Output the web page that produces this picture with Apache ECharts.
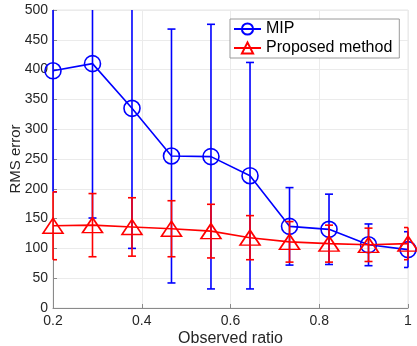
<!DOCTYPE html>
<html>
<head>
<meta charset="utf-8">
<script src="https://cdn.jsdelivr.net/npm/echarts@6/dist/echarts.min.js"></script>
<style>html,body{margin:0;padding:0;background:#fff}#c{width:417px;height:346px}</style>
</head>
<body>
<div id="c"></div>
<script>
var ratios = [0.2, 0.289, 0.378, 0.467, 0.556, 0.644, 0.733, 0.822, 0.911, 1.0];
var mipMean = [398, 410, 335, 255, 254, 222, 137, 132, 106, 98];
var mipErr = [203, 259, 235, 213, 222, 190, 65, 59, 35, 30];
var propMean = [138, 139, 136, 133, 129, 118, 111, 108, 106, 108];
var propErr = [57, 53, 49, 47, 45, 37, 34, 31, 28, 27];
var seriesNames = ['MIP', 'Proposed method'];

var FONT = 'Liberation Sans, Arial, Helvetica, sans-serif';

function pairs(m) { return ratios.map(function (x, i) { return [x, m[i]]; }); }
function bars(m, e) { return ratios.map(function (x, i) { return [x, m[i] - e[i], m[i] + e[i]]; }); }

function errRender(color) {
  return function (params, api) {
    var cs = params.coordSys;
    var top = cs.y, bot = cs.y + cs.height, left = cs.x, right = cs.x + cs.width;
    var lo = api.coord([api.value(0), api.value(1)]);
    var hi = api.coord([api.value(0), api.value(2)]);
    var x = lo[0];
    var y1 = Math.max(top, Math.min(bot, hi[1]));
    var y2 = Math.max(top, Math.min(bot, lo[1]));
    var hw = 4;
    var cl = Math.max(left, x - hw), cr = Math.min(right, x + hw);
    var st = { stroke: color, lineWidth: 1.6 };
    var children = [{ type: 'line', shape: { x1: x, y1: y1, x2: x, y2: y2 }, style: st }];
    if (hi[1] >= top) children.push({ type: 'line', shape: { x1: cl, y1: hi[1], x2: cr, y2: hi[1] }, style: st });
    if (lo[1] <= bot) children.push({ type: 'line', shape: { x1: cl, y1: lo[1], x2: cr, y2: lo[1] }, style: st });
    return { type: 'group', children: children };
  };
}

var chart = echarts.init(document.getElementById('c'), null, { renderer: 'canvas' });
chart.setOption({
  animation: false,
  backgroundColor: '#fff',
  textStyle: { fontFamily: FONT },
  grid: { left: 53, right: 9, top: 10, bottom: 38, show: true, borderColor: '#e6e6e6', borderWidth: 1,
          containLabel: false, outerBoundsMode: 'none' },
  legend: {
    orient: 'vertical', left: 230, top: 19,
    data: seriesNames,
    itemWidth: 27, itemHeight: 14, itemGap: 3,
    padding: [2, 7, 2, 3],
    borderColor: '#9a9a9a', borderWidth: 1, backgroundColor: '#fff',
    textStyle: { fontSize: 16, color: '#000', fontFamily: FONT }
  },
  xAxis: {
    type: 'value', min: 0.2, max: 1, interval: 0.2,
    name: 'Observed ratio', nameLocation: 'middle', nameGap: 23, nameMoveOverlap: false,
    nameTextStyle: { fontSize: 16, color: '#262626', fontFamily: FONT },
    axisLine: { show: true, lineStyle: { color: '#8a8a8a', width: 1 } },
    axisTick: { show: true, inside: true, length: 4, lineStyle: { color: '#8a8a8a' } },
    axisLabel: { fontSize: 14, color: '#262626', margin: 6, fontFamily: FONT },
    splitLine: { show: true, lineStyle: { color: '#ebebeb', width: 1 } }
  },
  yAxis: {
    type: 'value', min: 0, max: 500, interval: 50,
    name: 'RMS error', nameLocation: 'middle', nameGap: 30, nameMoveOverlap: false,
    nameTextStyle: { fontSize: 15, color: '#262626', fontFamily: FONT },
    axisLine: { show: true, lineStyle: { color: '#8a8a8a', width: 1 } },
    axisTick: { show: true, inside: true, length: 4, lineStyle: { color: '#8a8a8a' } },
    axisLabel: { fontSize: 14, color: '#262626', margin: 5, fontFamily: FONT },
    splitLine: { show: true, lineStyle: { color: '#ebebeb', width: 1 } }
  },
  series: [
    {
      type: 'custom', name: 'MIPerr', data: bars(mipMean, mipErr),
      renderItem: errRender('#0000ff'), z: 2, silent: true
    },
    {
      type: 'line', name: seriesNames[0], data: pairs(mipMean),
      symbol: 'circle', symbolSize: 16, showAllSymbol: true,
      lineStyle: { color: '#0000ff', width: 1.6 },
      itemStyle: { color: 'rgba(0,0,0,0)', borderColor: '#0000ff', borderWidth: 1.6 },
      z: 3
    },
    {
      type: 'custom', name: 'Perr', data: bars(propMean, propErr),
      renderItem: errRender('#ff0000'), z: 4, silent: true
    },
    {
      type: 'line', name: seriesNames[1], data: pairs(propMean),
      symbol: 'triangle', symbolSize: [20, 15], showAllSymbol: true,
      lineStyle: { color: '#ff0000', width: 1.6 },
      itemStyle: { color: 'rgba(0,0,0,0)', borderColor: '#ff0000', borderWidth: 1.6 },
      z: 5
    }
  ]
});
</script>
</body>
</html>
